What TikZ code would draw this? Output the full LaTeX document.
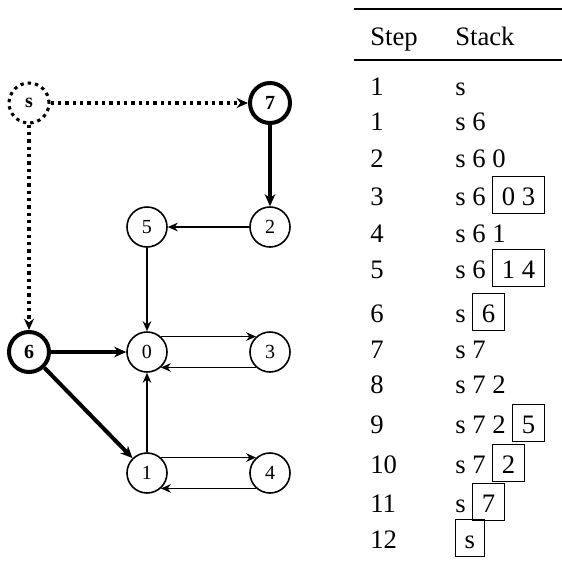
\documentclass[tikz,border=0pt]{standalone}
\usepackage{fontspec}
\setmainfont{Liberation Serif}
\usetikzlibrary{arrows.meta}
\newcommand\popbox[1]{{\setlength\fboxsep{0pt}\setlength\fboxrule{0.6pt}%
  \fbox{\hspace{6.5pt}\rule[-6.3pt]{0pt}{27.6pt}#1\hspace{6.5pt}}}}

\begin{document}
\begin{tikzpicture}[x=0.75pt,y=-0.75pt,
      >={Stealth[length=7.5pt,width=6.5pt]},
      vertex/.style={circle,draw,line width=1.2pt,minimum size=30pt,inner sep=0pt,
        font=\fontsize{15}{17}\selectfont},
      done/.style={vertex,line width=3pt,font=\fontsize{15}{17}\selectfont\bfseries},
      root/.style={done,line width=2.3pt,dash pattern=on 2.5pt off 3pt},
      edge/.style={->,line width=1pt},
      tree/.style={->,line width=3pt,>={Stealth[length=9pt,width=8pt]}},
      probe/.style={->,line width=2.3pt,dash pattern=on 2.5pt off 3pt,
        >={Stealth[length=8.5pt,width=7.5pt]}},
      cell/.style={anchor=base west,inner sep=0pt,font=\fontsize{20}{23}\selectfont}]
  \useasboundingbox(0,0)rectangle(562,562);
  % graph
  \node[root](s)at(29,103){s};
  \node[done](n7)at(270,103){7};
  \node[vertex](n5)at(147,227){5};
  \node[vertex](n2)at(270,227){2};
  \node[done](n6)at(29,352){6};
  \node[vertex](n0)at(147,352){0};
  \node[vertex](n3)at(270,352){3};
  \node[vertex](n1)at(147,473){1};
  \node[vertex](n4)at(270,473){4};
  \draw[probe](s)--(n7);
  \draw[probe](s)--(n6);
  \draw[tree](n7)--(n2);
  \draw[tree](n6)--(n0);
  \draw[tree](n6)--(n1);
  \draw[edge](n2)--(n5);
  \draw[edge](n5)--(n0);
  \draw[edge](n1)--(n0);
  \draw[edge](n0.48)--(n3.132);
  \draw[edge](n3.-132)--(n0.-48);
  \draw[edge](n1.48)--(n4.132);
  \draw[edge](n4.-132)--(n1.-48);
  % table
  \draw[line width=1.5pt](354,9.3)--(562,9.3);
  \draw[line width=1pt](354,60)--(562,60);
  \node[cell](stephead)at(370,45){Step};
  \node[cell](stackhead)at(455,45){Stack};
  \foreach \y/\n/\s [count=\i] in {95/1/s,130/1/s 6,167/2/s 6 0,
      205/3/s 6 \popbox{0 3},242/4/s 6 1,278/5/s 6 \popbox{1 4},
      322/6/s \popbox{6},358/7/s 7,393/8/s 7 2,433/9/s 7 2 \popbox{5},
      473/10/s 7 \popbox{2},512/11/s \popbox{7},548/12/\popbox{s}}{
    \node[cell](step\i)at(370,\y){\n};
    \node[cell](stack\i)at(455,\y){\s};
  }
\end{tikzpicture}
\end{document}
